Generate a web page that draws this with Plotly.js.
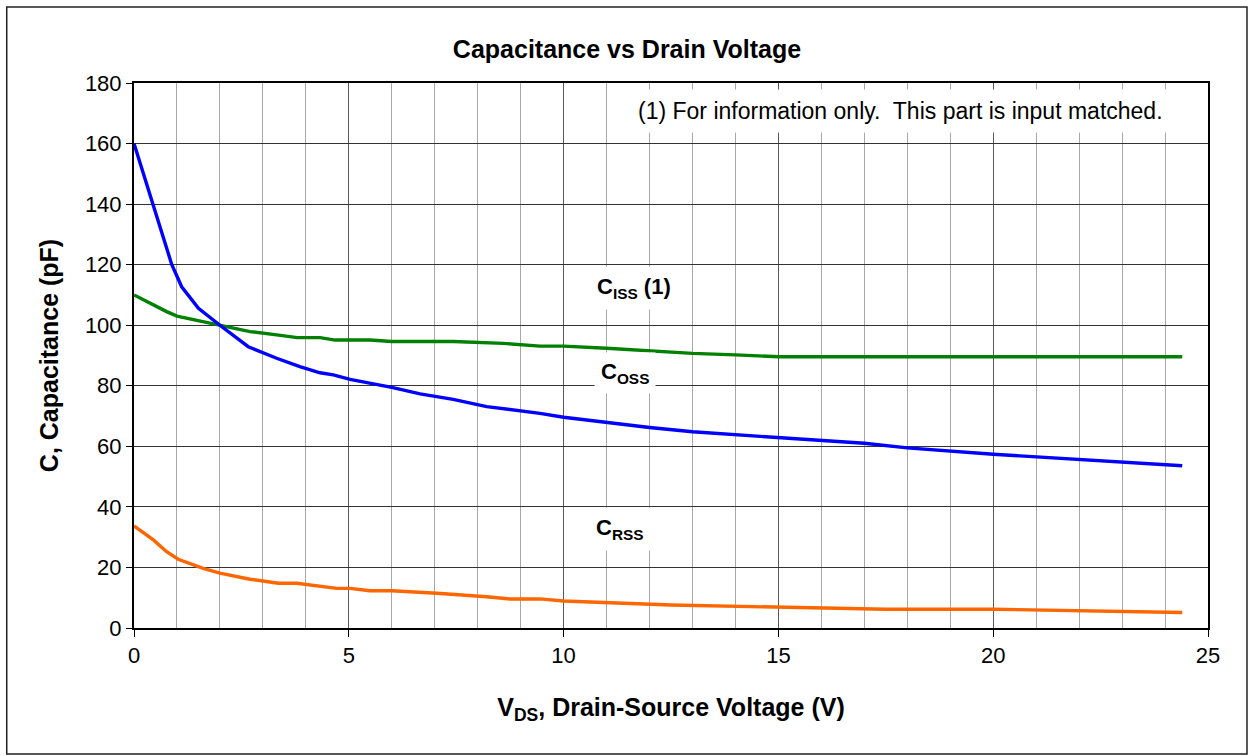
<!DOCTYPE html>
<html>
<head>
<meta charset="utf-8">
<script src="https://cdn.plot.ly/plotly-3.0.1.min.js"></script>
<style>
  html, body { margin: 0; padding: 0; background: #fff; }
  #chart { width: 1249px; height: 756px; }
</style>
</head>
<body>
<div id="chart"></div>
<script>
// Green curve (upper label C_ISS)
const issV = [0, 0.45, 0.76, 1.0, 1.5, 2.0, 2.7, 3.32, 3.8, 4.33, 4.68, 5.5, 6.0, 7.43, 8.6, 9.45, 10.0, 11.0, 12.0, 13.0, 14.0, 15.0, 20.0, 24.4];
const issC = [110, 106.7, 104.5, 103, 101.5, 100, 97.9, 96.8, 95.9, 95.9, 95.1, 95.1, 94.6, 94.6, 94.0, 93.1, 93.1, 92.4, 91.5, 90.7, 90.2, 89.6, 89.6, 89.6];

// Blue curve (C_OSS)
const ossV = [0, 0.22, 0.49, 0.64, 0.88, 1.11, 1.5, 2.0, 2.66, 3.32, 3.86, 4.33, 4.64, 5.03, 6.0, 6.66, 7.43, 8.21, 9.45, 10.0, 11.0, 12.0, 13.0, 15.0, 17.0, 18.0, 19.2, 20.0, 24.4];
const ossC = [160, 150, 137, 130, 120, 112.7, 105.6, 100, 92.9, 89.1, 86.3, 84.3, 83.6, 82.1, 79.5, 77.3, 75.5, 73.1, 70.9, 69.6, 67.9, 66.2, 64.8, 62.9, 61.0, 59.5, 58.2, 57.4, 53.6];

// Orange curve (C_RSS)
const rssV = [0, 0.45, 0.76, 1.03, 1.61, 2.0, 2.7, 3.36, 3.79, 4.33, 4.72, 5.03, 5.49, 6.0, 7.05, 8.21, 8.75, 9.45, 10.0, 12.5, 15.0, 17.5, 20.0, 24.4];
const rssC = [33.7, 29.1, 25.2, 22.7, 19.7, 18.1, 16.1, 14.8, 14.8, 13.9, 13.1, 13.1, 12.3, 12.3, 11.5, 10.3, 9.6, 9.6, 8.9, 7.6, 7.0, 6.2, 6.2, 5.1];

const xTicks = [0, 5, 10, 15, 20, 25];
const yTicks = [0, 20, 40, 60, 80, 100, 120, 140, 160, 180];

const FONT = 'Liberation Sans, Arial, sans-serif';

const traces = [
  {x: issV, y: issC, mode: 'lines', line: {color: '#008000', width: 3.4}, name: 'Ciss'},
  {x: ossV, y: ossC, mode: 'lines', line: {color: '#0000FF', width: 3.4}, name: 'Coss'},
  {x: rssV, y: rssC, mode: 'lines', line: {color: '#FF6600', width: 3.4}, name: 'Crss'}
];

const layout = {
  width: 1249, height: 756,
  margin: {l: 134, r: 41, t: 83, b: 128},
  paper_bgcolor: '#fff', plot_bgcolor: '#fff',
  showlegend: false,
  font: {family: FONT, color: '#000', size: 20},
  title: {text: '<b>Capacitance vs Drain Voltage</b>', font: {family: FONT, size: 25, color: '#000'},
          x: 0.502, xanchor: 'center', y: 0.935, yanchor: 'middle'},
  xaxis: {
    range: [0, 25], tickvals: xTicks, ticktext: xTicks.map(String),
    showgrid: true, gridcolor: '#5a5a5a', gridwidth: 1,
    minor: {dtick: 1, showgrid: true, gridcolor: '#a8a8a8', gridwidth: 1, ticks: ''},
    ticks: 'outside', ticklen: 7, tickcolor: '#000', tickwidth: 1,
    showline: true, linecolor: '#000', linewidth: 2, mirror: true,
    zeroline: false,
    tickfont: {family: FONT, size: 22, color: '#000'},
    title: {text: '<b>V<sub>DS</sub>, Drain-Source Voltage (V)</b>', font: {family: FONT, size: 25, color: '#000'}, standoff: 31}
  },
  yaxis: {
    range: [0, 180], tickvals: yTicks, ticktext: yTicks.map(String),
    showgrid: true, gridcolor: '#333', gridwidth: 1,
    ticks: 'outside', ticklen: 6, tickcolor: '#000', tickwidth: 1,
    showline: true, linecolor: '#000', linewidth: 2, mirror: true,
    zeroline: false,
    tickfont: {family: FONT, size: 22, color: '#000'},
    title: {text: '<b>C, Capacitance (pF)</b>', font: {family: FONT, size: 25, color: '#000'}, standoff: 19}
  },
  annotations: [
    {x: 17.85, y: 170.6, xref: 'x', yref: 'y', text: '(1) For information only.  This part is input matched.',
     showarrow: false, bgcolor: '#fff', borderpad: 8, font: {family: FONT, size: 23, color: '#000'}},
    {x: 11.64, y: 112.4, xref: 'x', yref: 'y', text: '<b>C<sub>ISS</sub> (1)</b>',
     showarrow: false, bgcolor: '#fff', borderpad: 7, font: {family: FONT, size: 22, color: '#000'}},
    {x: 11.42, y: 84.3, xref: 'x', yref: 'y', text: '<b>C<sub>OSS</sub></b>',
     showarrow: false, bgcolor: '#fff', borderpad: 6, font: {family: FONT, size: 22, color: '#000'}},
    {x: 11.31, y: 32.6, xref: 'x', yref: 'y', text: '<b>C<sub>RSS</sub></b>',
     showarrow: false, bgcolor: '#fff', borderpad: 7, font: {family: FONT, size: 22, color: '#000'}}
  ],
  shapes: [
    {type: 'rect', xref: 'paper', yref: 'paper', x0: -0.1185, x1: 1.0363, y0: -0.2312, y1: 1.1395,
     line: {color: '#222', width: 1.5}, fillcolor: 'rgba(0,0,0,0)', layer: 'below'}
  ]
};

Plotly.newPlot('chart', traces, layout, {displayModeBar: false, staticPlot: true});
</script>
</body>
</html>
